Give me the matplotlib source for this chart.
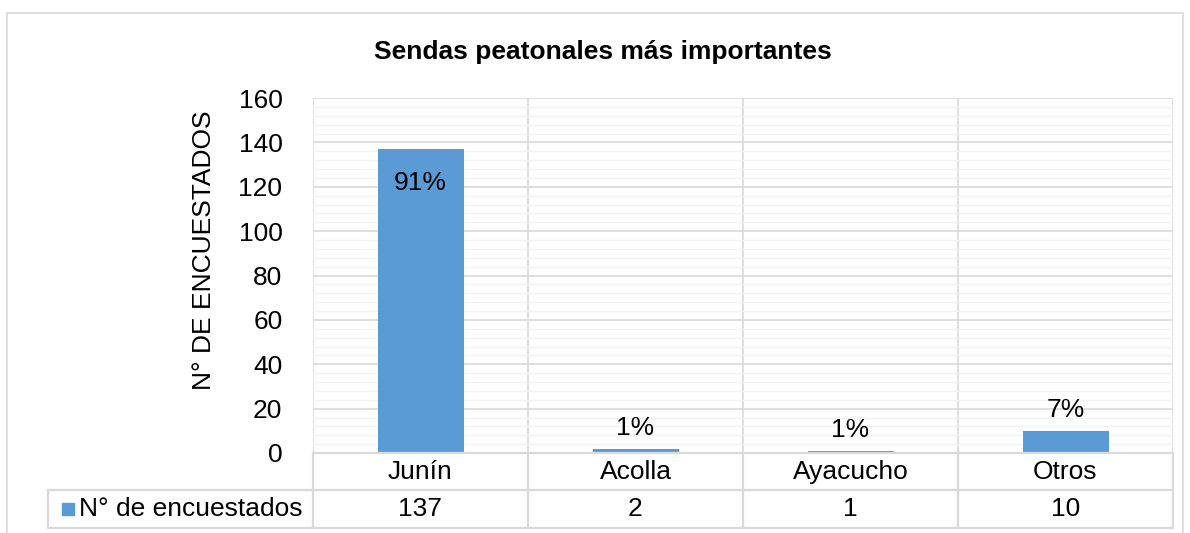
import numpy as np
import matplotlib
matplotlib.use("Agg")
from matplotlib import pyplot as plt
from matplotlib.patches import Rectangle
from matplotlib.lines import Line2D

# datos
categorias = ["Junín", "Acolla", "Ayacucho", "Otros"]
encuestados = [137, 2, 1, 10]
porcentajes = ["91%", "1%", "1%", "7%"]
serie = "N° de encuestados"
titulo = "Sendas peatonales más importantes"
eje_y = "N° DE ENCUESTADOS"

plt.rcParams["font.family"] = ["Liberation Sans", "DejaVu Sans"]
azul = "#5B9BD5"
gris = "#D9D9D9"
fs = 19

W, H = 1190, 533
fig = plt.figure(figsize=(W / 100, H / 100), dpi=100)

def fx(px):
    return px / W

def fy(py):
    return 1 - py / H

# marco exterior del grafico
fig.patches.append(Rectangle((fx(7), fy(540)), fx(1183) - fx(7), fy(13) - fy(540),
                             transform=fig.transFigure, fill=False, ec=gris, lw=1.2))

# area de trazado
x0, x1, ytop, ybot = 313, 1173, 98, 453
ax = fig.add_axes([fx(x0), fy(ybot), fx(x1) - fx(x0), fy(ytop) - fy(ybot)])
n = len(categorias)
x = np.arange(n)
ax.set_xlim(-0.5, n - 0.5)
ax.set_ylim(0, 160)
ax.set_yticks(np.arange(0, 161, 20))
ax.set_yticks(np.arange(0, 161, 4), minor=True)
ax.grid(axis="y", which="minor", color="#F2F2F2", lw=1.0, zorder=0)
ax.grid(axis="y", which="major", color=gris, lw=1.2, zorder=1)
for b in np.arange(-0.5, n, 1):
    ax.axvline(b, color=gris, lw=1.2, zorder=1)
ax.set_xticks([])
ax.tick_params(axis="y", which="both", length=0, labelsize=fs, pad=22)
for s in ax.spines.values():
    s.set_visible(False)

ax.bar(x, encuestados, width=0.4, color=azul, zorder=3)
for i, (v, p) in enumerate(zip(encuestados, porcentajes)):
    if v > 100:
        ax.text(i, v - 10, p, ha="center", va="top", fontsize=fs, zorder=4)
    else:
        ax.text(i, v + 4, p, ha="center", va="bottom", fontsize=fs, zorder=4)

ax.set_ylabel(eje_y, fontsize=fs)
ax.yaxis.set_label_coords(-0.113, 0.57)
fig.text(fx(603), fy(52), titulo, ha="center", va="center", fontsize=fs, fontweight="bold")

# tabla de datos
t0, tmid, t1 = 453, 490, 528
leg_x = 48
cw = (x1 - x0) / n
tax = fig.add_axes([fx(leg_x), fy(t1), fx(x1) - fx(leg_x), fy(t0) - fy(t1)])
tax.set_xlim(-0.5 - (x0 - leg_x) / cw, n - 0.5)
tax.set_ylim(t1, t0)
tax.axis("off")
lc = dict(color=gris, lw=1.6, clip_on=False)
tax.add_line(Line2D([-0.5, n - 0.5], [t0, t0], **lc))
tax.add_line(Line2D([-0.5 - (x0 - leg_x) / cw, n - 0.5], [tmid, tmid], **lc))
tax.add_line(Line2D([-0.5 - (x0 - leg_x) / cw, n - 0.5], [t1, t1], **lc))
tax.add_line(Line2D([-0.5 - (x0 - leg_x) / cw] * 2, [tmid, t1], **lc))
for b in np.arange(-0.5, n, 1):
    tax.add_line(Line2D([b, b], [t0, t1], **lc))
for i in range(n):
    tax.text(i, (t0 + tmid) / 2, categorias[i], ha="center", va="center", fontsize=fs)
    tax.text(i, (tmid + t1) / 2, str(encuestados[i]), ha="center", va="center", fontsize=fs)

# leyenda en la tabla
fig.patches.append(Rectangle((fx(62), fy(515)), fx(74) - fx(62), fy(503) - fy(515),
                             transform=fig.transFigure, color=azul))
fig.text(fx(79), fy(509), serie, ha="left", va="center", fontsize=fs)

fig.savefig("out.png", dpi=100)
